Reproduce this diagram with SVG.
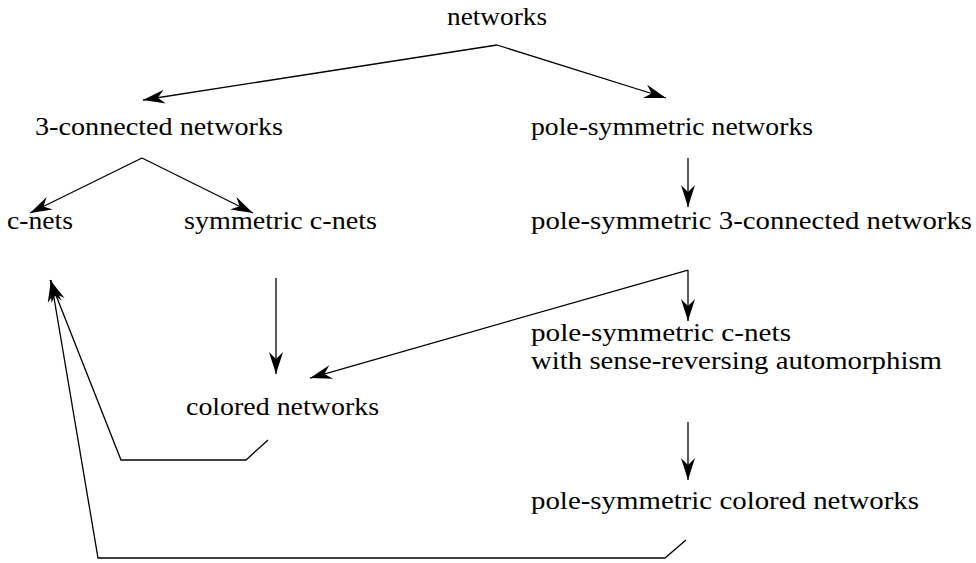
<svg xmlns="http://www.w3.org/2000/svg" width="976" height="563" viewBox="0 0 976 563">
<defs>
<marker id="ah" markerUnits="userSpaceOnUse" markerWidth="30" markerHeight="20" viewBox="-24 -10 30 20" refX="0" refY="0" orient="auto">
<path d="M0,0 L-22,-7 L-15,0 L-22,7 Z" fill="#000"/>
</marker>
<style>
text{font-family:"Liberation Serif","DejaVu Serif",serif;font-size:25px;fill:#000}
.c line,.c polyline{stroke:#000;stroke-width:1.3;fill:none}
.a{marker-end:url(#ah)}
</style>
</defs>
<rect width="976" height="563" fill="#fff"/>
<g id="n1"><text x="447" y="25" textLength="100" lengthAdjust="spacingAndGlyphs">networks</text></g>
<g id="n2"><text x="35" y="135" textLength="248" lengthAdjust="spacingAndGlyphs">3-connected networks</text></g>
<g id="n3"><text x="531" y="135" textLength="282" lengthAdjust="spacingAndGlyphs">pole-symmetric networks</text></g>
<g id="n4"><text x="7" y="229" textLength="66" lengthAdjust="spacingAndGlyphs">c-nets</text></g>
<g id="n5"><text x="184" y="229" textLength="193" lengthAdjust="spacingAndGlyphs">symmetric c-nets</text></g>
<g id="n6"><text x="531" y="229" textLength="441" lengthAdjust="spacingAndGlyphs">pole-symmetric 3-connected networks</text></g>
<g id="n7"><text x="531" y="341" textLength="260" lengthAdjust="spacingAndGlyphs">pole-symmetric c-nets</text><text x="531" y="369" textLength="411" lengthAdjust="spacingAndGlyphs">with sense-reversing automorphism</text></g>
<g id="n8"><text x="186" y="415" textLength="193" lengthAdjust="spacingAndGlyphs">colored networks</text></g>
<g id="n9"><text x="531" y="509" textLength="388" lengthAdjust="spacingAndGlyphs">pole-symmetric colored networks</text></g>
<g id="connectors" class="c">
<line class="a" x1="497" y1="45" x2="143" y2="100"/>
<line class="a" x1="497" y1="45" x2="666" y2="98"/>
<line class="a" x1="142" y1="158" x2="30" y2="213"/>
<line class="a" x1="142" y1="158" x2="253" y2="213"/>
<line class="a" x1="688" y1="158" x2="688" y2="207"/>
<line class="a" x1="276" y1="278" x2="276" y2="374"/>
<line class="a" x1="688" y1="270" x2="310" y2="378"/>
<line class="a" x1="688" y1="270" x2="688" y2="321"/>
<line class="a" x1="688" y1="422" x2="688" y2="480"/>
<polyline class="a" points="268,440 246,460 121,460 50,280"/>
<polyline class="a" points="686,540 665,558 98,558 51,280"/>
</g>
</svg>
